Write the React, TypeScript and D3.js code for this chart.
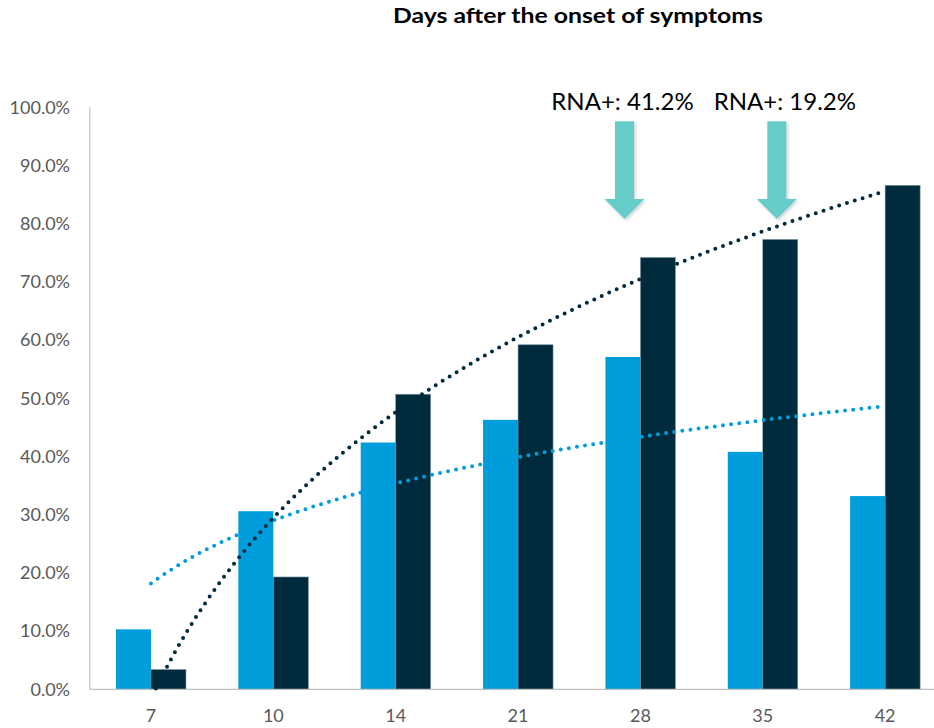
import React from "react";
import * as d3 from "d3";

const categories = ["7", "10", "14", "21", "28", "35", "42"];
const seriesLight = [0.103, 0.306, 0.424, 0.463, 0.571, 0.408, 0.332];
const seriesDark = [0.034, 0.193, 0.507, 0.592, 0.742, 0.773, 0.866];
const yTicks = [0, 0.1, 0.2, 0.3, 0.4, 0.5, 0.6, 0.7, 0.8, 0.9, 1.0];
const annotations = [
  { label: "RNA+: 41.2%", category: "28", offset: -0.13, textOffset: -2 },
  { label: "RNA+: 19.2%", category: "35", offset: 0.115, textOffset: 8 },
];
const titleText = "Days after the onset of symptoms";

const W = 934;
const H = 728;
const plotLeft = 89.8;
const plotRight = 946.3;
const yBottom = 689.3;
const yTop = 107.3;
const LIGHT = "#009DDC";
const DARK = "#002B3C";
const ARROW = "#66CDC8";
const FONT = "Lato, 'Open Sans', sans-serif";

function logFit(vals: number[]) {
  const xs = vals.map((_, i) => Math.log(i + 1));
  const mx = d3.mean(xs) as number;
  const my = d3.mean(vals) as number;
  let num = 0, den = 0;
  xs.forEach((x, i) => {
    num += (x - mx) * (vals[i] - my);
    den += (x - mx) * (x - mx);
  });
  const b = num / den;
  const a = my - b * mx;
  return (t: number) => a + b * Math.log(t);
}

export default function App() {
  const x = d3.scaleBand<string>().domain(categories).range([plotLeft, plotRight]).paddingInner(0).paddingOuter(0);
  const bw = x.bandwidth();
  const sub = d3.scaleBand<string>().domain(["light", "dark"]).range([-35, 35]);
  const y = d3.scaleLinear().domain([0, 1]).range([yBottom, yTop]);
  const center = (c: string) => (x(c) as number) + bw / 2;
  const idxToPx = d3.scaleLinear().domain([1, categories.length]).range([center(categories[0]), center(categories[categories.length - 1])]);

  const trendPath = (vals: number[]) => {
    const f = logFit(vals);
    const pts: [number, number][] = [];
    for (let t = 1; t <= categories.length + 1e-9; t += 0.02) {
      const v = f(t);
      if (v >= 0) pts.push([idxToPx(t), y(v)]);
    }
    return d3.line()(pts) as string;
  };

  const arrowPath = (cx: number, top: number, tip: number) => {
    const sw = 9.5, hw = 20, hh = 20;
    return `M${cx - sw},${top}L${cx + sw},${top}L${cx + sw},${tip - hh}L${cx + hw},${tip - hh}L${cx},${tip}L${cx - hw},${tip - hh}L${cx - sw},${tip - hh}Z`;
  };

  return (
    <svg width={W} height={H} style={{ position: "absolute", left: 0, top: 0, background: "#fff" }}>
      <defs>
        <filter id="sh" x="-30%" y="-10%" width="160%" height="130%">
          <feDropShadow dx="1.5" dy="1.5" stdDeviation="1.5" floodColor="#000" floodOpacity="0.2" />
        </filter>
      </defs>
      <text x={578} y={23} textAnchor="middle" fontFamily={FONT} fontWeight="bold" fontSize={21} fill="#000" textLength={370} lengthAdjust="spacingAndGlyphs">
        {titleText}
      </text>

      {/* y ticks */}
      {yTicks.map((t) => (
        <text key={t} x={70} y={y(t)} dy="0.35em" textAnchor="end" fontFamily={FONT} fontSize={18} fill="#595959">
          {(t * 100).toFixed(1) + "%"}
        </text>
      ))}

      {/* bars */}
      {categories.map((c, i) => (
        <g key={c}>
          <rect x={center(c) + (sub("light") as number)} y={y(seriesLight[i])} width={sub.bandwidth()} height={yBottom - y(seriesLight[i])} fill={LIGHT} />
          <rect x={center(c) + (sub("dark") as number)} y={y(seriesDark[i])} width={sub.bandwidth()} height={yBottom - y(seriesDark[i])} fill={DARK} stroke="#7f98a3" strokeWidth={0.6} />
        </g>
      ))}

      {/* axes */}
      <line x1={plotLeft} x2={plotLeft} y1={yTop} y2={yBottom} stroke="#BFBFBF" strokeWidth={1.2} />
      <line x1={plotLeft} x2={plotRight} y1={yBottom} y2={yBottom} stroke="#BFBFBF" strokeWidth={1.2} />
      {categories.map((c) => (
        <text key={c} x={center(c)} y={716} dy="0.35em" textAnchor="middle" fontFamily={FONT} fontSize={18} fill="#595959">
          {c}
        </text>
      ))}

      {/* trendlines */}
      <path d={trendPath(seriesLight)} fill="none" stroke={LIGHT} strokeWidth={4} strokeDasharray="0 8.2" strokeLinecap="round" />
      <path d={trendPath(seriesDark)} fill="none" stroke={DARK} strokeWidth={4} strokeDasharray="0 8.2" strokeLinecap="round" />

      {/* annotations */}
      {annotations.map((a) => {
        const cx = center(a.category) + a.offset * bw;
        return (
          <g key={a.label}>
            <path d={arrowPath(cx, y(0.976), y(0.808))} fill={ARROW} filter="url(#sh)" />
            <text x={cx + a.textOffset} y={110} textAnchor="middle" fontFamily={FONT} fontSize={24} fill="#000">
              {a.label}
            </text>
          </g>
        );
      })}
    </svg>
  );
}
